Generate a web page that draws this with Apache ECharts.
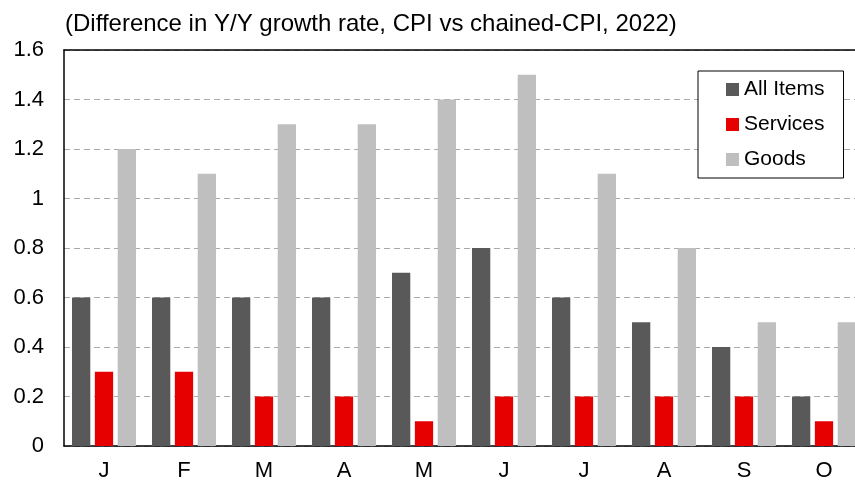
<!DOCTYPE html>
<html>
<head>
<meta charset="utf-8">
<script src="https://cdn.jsdelivr.net/npm/echarts@6/dist/echarts.min.js"></script>
<style>
  html, body { margin: 0; padding: 0; overflow: hidden; background: #fff; }
  #main { width: 864px; height: 484px; }
</style>
</head>
<body>
<div id="main"></div>
<script>
var months = ['J', 'F', 'M', 'A', 'M', 'J', 'J', 'A', 'S', 'O'];
var allItems = [0.6, 0.6, 0.6, 0.6, 0.7, 0.8, 0.6, 0.5, 0.4, 0.2];
var services = [0.3, 0.3, 0.2, 0.2, 0.1, 0.2, 0.2, 0.2, 0.2, 0.1];
var goods = [1.2, 1.1, 1.3, 1.3, 1.4, 1.5, 1.1, 0.8, 0.5, 0.5];

var font = 'Liberation Sans, Arial, sans-serif';
var chart = echarts.init(document.getElementById('main'));

var option = {
    animation: false,
    textStyle: { fontFamily: font },
    title: {
        text: '(Difference in Y/Y growth rate, CPI vs chained-CPI, 2022)',
        left: 60,
        top: 7,
        textStyle: { fontSize: 24, fontWeight: 'normal', color: '#000', fontFamily: font }
    },
    legend: {
        orient: 'vertical',
        left: 698,
        top: 71,
        itemWidth: 13,
        itemHeight: 13,
        itemGap: 14,
        padding: [8, 19, 8, 28],
        borderColor: '#000',
        borderWidth: 1,
        backgroundColor: '#fff',
        icon: 'rect',
        textStyle: { fontSize: 21, color: '#000', fontFamily: font },
        data: ['All Items', 'Services', 'Goods']
    },
    grid: {
        left: 64,
        right: 0,
        top: 50,
        bottom: 38
    },
    xAxis: [{
        type: 'category',
        data: months,
        axisLine: { lineStyle: { color: '#000', width: 1.5 } },
        axisTick: { show: false },
        axisLabel: { fontSize: 22, color: '#000', margin: 14, fontFamily: font }
    }, {
        type: 'category',
        position: 'top',
        data: months,
        axisLine: { lineStyle: { color: '#000', width: 1.5 } },
        axisTick: { show: false },
        axisLabel: { show: false }
    }],
    yAxis: {
        type: 'value',
        min: 0,
        max: 1.6,
        interval: 0.2,
        axisLine: { show: true, lineStyle: { color: '#000', width: 1.5 } },
        axisTick: { show: false },
        axisLabel: {
            fontSize: 22,
            color: '#000',
            margin: 20,
            fontFamily: font,
            formatter: function (v) { return String(Math.round(v * 10) / 10); }
        },
        splitLine: { lineStyle: { color: '#aaa', type: [6, 4] } }
    },
    series: [{
        name: 'All Items',
        type: 'bar',
        data: allItems,
        barGap: '25%',
        barCategoryGap: '20%',
        itemStyle: { color: '#595959' }
    }, {
        name: 'Services',
        type: 'bar',
        data: services,
        itemStyle: { color: '#e60000' }
    }, {
        name: 'Goods',
        type: 'bar',
        data: goods,
        itemStyle: { color: '#bfbfbf' }
    }]
};

chart.setOption(option);
window.onresize = function () { chart.resize(); };
</script>
</body>
</html>
